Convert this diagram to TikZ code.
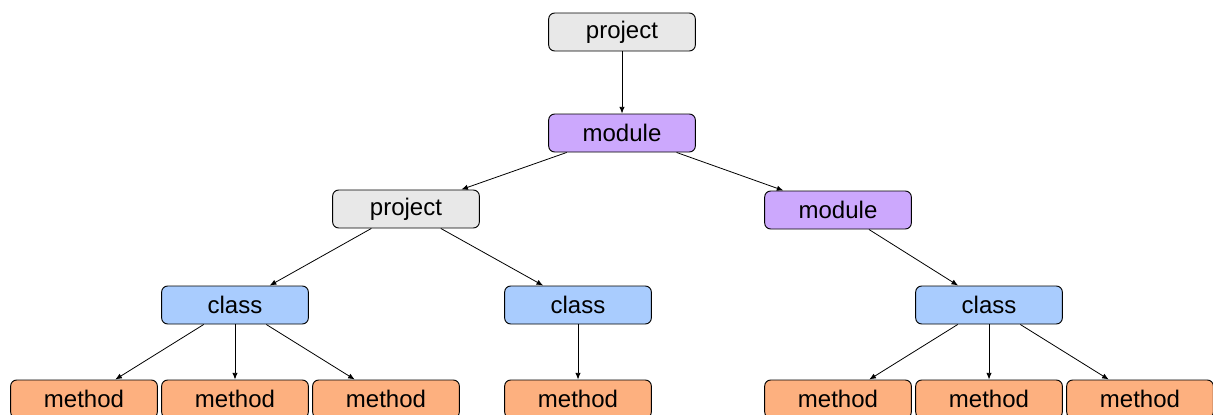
\documentclass[tikz,border=0pt]{standalone}
\usepackage{fontspec}
\setmainfont{Liberation Sans}
\usepackage{tikz}
\usetikzlibrary{arrows.meta}
\definecolor{projgray}{HTML}{E8E8E8}
\definecolor{modpurple}{HTML}{CCA8FD}
\definecolor{clsblue}{HTML}{A9CCFE}
\definecolor{methorange}{HTML}{FDB07F}
\begin{document}
\begin{tikzpicture}[x=0.75pt,y=-0.75pt,
  box/.style={rectangle,rounded corners=4.5pt,draw=black,line width=0.7pt,minimum width=110pt,minimum height=28.5pt,inner sep=0pt,font=\fontsize{18}{20}\selectfont},
  link/.style={-{Latex[length=5pt,width=4pt]},line width=0.6pt}]

\useasboundingbox (0,0) rectangle (1213,414);
\clip (0,0) rectangle (1213,414);

\node (p1) [box,fill=projgray] at (622,32) {project};
\node (m1) [box,fill=modpurple] at (622,133) {module};

\node (p2) [box,fill=projgray] at (406,209) {project};
\node (m2) [box,fill=modpurple] at (838,210) {module};

\node (c1) [box,fill=clsblue] at (235,305) {class};
\node (c2) [box,fill=clsblue] at (578,305) {class};
\node (c3) [box,fill=clsblue] at (989,305) {class};

\node (f1) [box,fill=methorange] at (84,399) {method};
\node (f2) [box,fill=methorange] at (235,399) {method};
\node (f3) [box,fill=methorange] at (386,399) {method};
\node (f4) [box,fill=methorange] at (578,399) {method};
\node (f5) [box,fill=methorange] at (838,399) {method};
\node (f6) [box,fill=methorange] at (989,399) {method};
\node (f7) [box,fill=methorange] at (1140,399) {method};

\draw[link] (p1)--(m1);
\draw[link] (m1)--(p2);
\draw[link] (m1)--(m2);

\draw[link] (p2)--(c1);
\draw[link] (p2)--(c2);
\draw[link] (m2)--(c3);

\draw[link] (c1)--(f1);
\draw[link] (c1)--(f2);
\draw[link] (c1)--(f3);
\draw[link] (c2)--(f4);
\draw[link] (c3)--(f5);
\draw[link] (c3)--(f6);
\draw[link] (c3)--(f7);

\end{tikzpicture}
\end{document}
